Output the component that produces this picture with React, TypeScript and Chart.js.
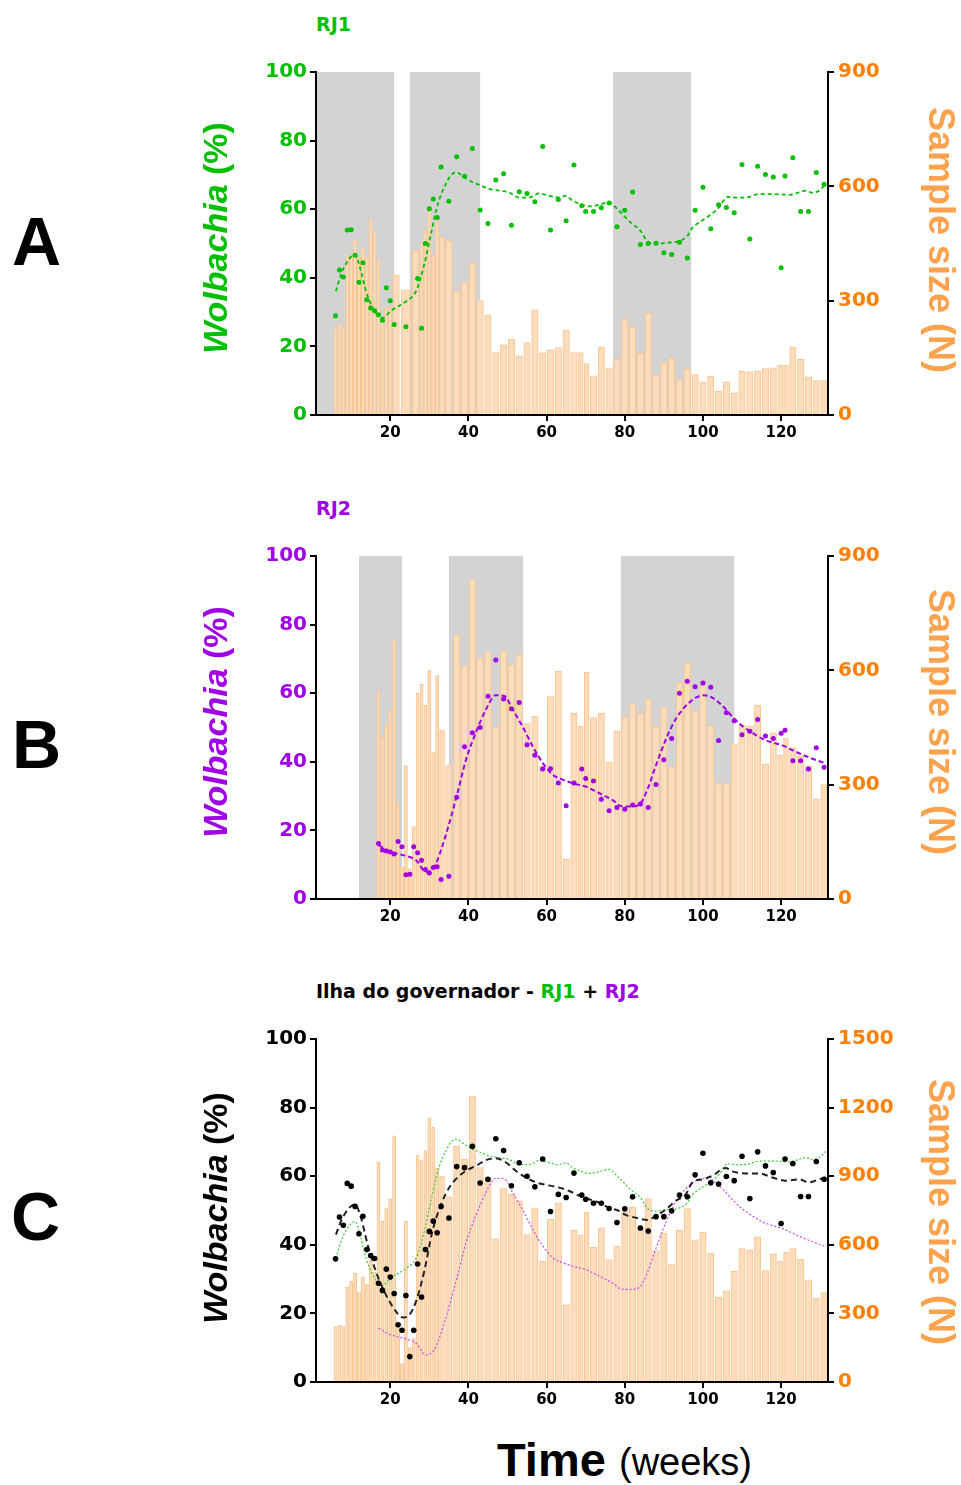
import React, { useEffect, useRef } from 'react';
import { Chart, registerables } from 'chart.js';

Chart.register(...registerables);

// ---------- axis ticks ----------
const X_TICKS = [20, 40, 60, 80, 100, 120];
const PCT_TICKS = [0, 20, 40, 60, 80, 100];
const N_TICKS_AB = [0, 300, 600, 900];
const N_TICKS_C = [0, 300, 600, 900, 1200, 1500];

// ---------- Panel A : RJ1 ----------
const A_WEEKS = [6, 7, 8, 9, 10, 11, 12, 13, 14, 15, 16, 17, 18, 19, 20, 21, 24, 27, 28, 29, 30, 31, 32, 33, 35, 37, 39, 41, 43, 45, 47, 49, 51, 53, 55, 57, 59, 61, 63, 65, 67, 69, 70, 72, 74, 76, 78, 80, 82, 84, 86, 88, 90, 92, 94, 96, 98, 100, 102, 104, 106, 108, 110, 112, 114, 116, 118, 120, 121, 123, 125, 127, 129, 131];
const A_N = [226, 240, 232, 416, 421, 457, 414, 436, 413, 515, 479, 407, 254, 284, 284, 368, 328, 432, 450, 486, 534, 419, 508, 467, 457, 325, 349, 400, 300, 263, 164, 184, 199, 155, 190, 276, 163, 171, 177, 223, 164, 164, 135, 103, 179, 124, 146, 252, 230, 162, 267, 105, 138, 150, 93, 121, 106, 87, 102, 63, 87, 58, 115, 113, 115, 122, 124, 131, 131, 179, 146, 100, 90, 90];
const A_PCT = [28.9, 42.3, 40.2, 53.9, 54, 46.6, 38.7, 44.4, 33.6, 31.2, 30.4, 29.2, 27.6, 37.1, 33.3, 26.4, 25.7, 39.8, 25.3, 50, 60.1, 63, 57.6, 72.3, 62.3, 75.3, 69.6, 77.7, 59.8, 55.8, 68.5, 70.3, 55.3, 65.1, 64.6, 62.2, 78.3, 53.9, 62.8, 56.6, 72.9, 61, 59.3, 59.3, 60.4, 61.8, 54.9, 59.7, 65, 49.7, 50, 50.1, 47.3, 46.8, 50.4, 45.8, 59.7, 66.4, 54.3, 61.3, 60.5, 59, 73, 51.3, 72.5, 70.1, 69.4, 42.9, 69.7, 75, 59.3, 59.3, 70.7, 67.3];
const A_FIT_WEEKS = [6.1, 7.4, 9.1, 11, 12.5, 13.8, 15.1, 16.3, 18, 20.2, 24, 26.6, 28.7, 30.4, 31.7, 33.4, 36.8, 39, 41.1, 43.2, 45.3, 47.9, 50.4, 53, 55.5, 58.1, 60.7, 63.2, 64.9, 66.6, 68.7, 70.9, 73.4, 76, 78.1, 80.2, 82, 83.7, 85.8, 87.9, 90.5, 93.9, 96, 97.3, 99, 101.6, 104.1, 106.3, 108.4, 110.9, 114.4, 117.8, 122, 124.6, 126.3, 128, 129.7, 131.4];
const A_FIT_PCT = [36.1, 41, 44.9, 46.8, 41.9, 36.1, 32.2, 29.7, 28.3, 30.4, 33.1, 36.1, 43.9, 52.7, 59.5, 65.4, 70.8, 69.3, 67.8, 66.9, 65.9, 65.4, 64.9, 63.4, 63.4, 64.6, 63.9, 63.4, 63.9, 62.5, 61.5, 60.8, 61.3, 62, 60, 57.6, 55.6, 54.2, 50.7, 49.8, 50.2, 50.7, 52.2, 54.6, 56.1, 58.1, 60.5, 63.6, 63.4, 63.4, 64.4, 64.4, 64.2, 64.9, 65.4, 64.8, 65.4, 67.2];
const A_SHADE_FROM = [1, 25, 77];
const A_SHADE_TO = [21, 43, 97];

// ---------- Panel B : RJ2 ----------
const B_WEEKS = [17, 18, 19, 20, 21, 22, 23, 24, 25, 26, 27, 28, 29, 30, 31, 32, 33, 35, 37, 39, 41, 43, 45, 47, 49, 51, 53, 55, 57, 59, 61, 63, 65, 67, 69, 70, 72, 74, 76, 78, 80, 82, 84, 86, 88, 90, 92, 94, 96, 98, 100, 102, 104, 106, 108, 110, 112, 114, 116, 118, 120, 121, 123, 125, 127, 129, 131];
const B_N = [545, 425, 456, 495, 681, 250, 84, 350, 80, 190, 540, 563, 508, 600, 384, 586, 444, 350, 693, 612, 838, 633, 649, 451, 651, 615, 642, 460, 479, 348, 531, 598, 104, 487, 454, 595, 476, 487, 359, 441, 476, 513, 487, 524, 454, 504, 347, 568, 619, 496, 561, 456, 303, 303, 407, 457, 454, 508, 355, 436, 377, 423, 397, 375, 348, 263, 300];
const B_PCT = [16.2, 14.3, 14, 13.7, 13.1, 16.8, 15.2, 7.1, 7.2, 15.2, 13.5, 11.3, 8.6, 7.6, 9.2, 9.4, 5.7, 6.6, 29.7, 44.4, 48.5, 50, 59.1, 69.7, 58.3, 55.5, 57.3, 45, 41.9, 37.9, 38, 33.8, 27.2, 33.8, 37.9, 35.1, 34.4, 29.1, 25.7, 26.7, 26.2, 27.4, 27.7, 26.7, 33.4, 40.6, 46.8, 60, 63.5, 61.9, 63, 61.7, 46.2, 54.3, 52, 47.9, 48.9, 52.3, 47.5, 46.8, 48.3, 49.2, 40.3, 40.3, 37.9, 44.1, 38.4];
const B_FIT_WEEKS = [17, 20, 23.2, 26.6, 29.1, 31.3, 33, 35.1, 37.2, 39.4, 41.9, 44.5, 47, 49.2, 51.3, 53.8, 56.4, 59, 61.5, 64.1, 67.1, 70, 73.4, 76.8, 79.4, 82, 84.1, 85.8, 87.9, 90.5, 93, 95.6, 98.2, 100.3, 102.4, 105, 107.5, 110.1, 112.6, 115.2, 117.8, 120.3, 122.9, 125.4, 128, 131];
const B_FIT_PCT = [15.7, 13.8, 12.8, 11.3, 7.9, 9.4, 14.3, 22.1, 30.9, 40.7, 48.5, 55.3, 59.4, 59.2, 55.3, 50.4, 44.6, 39.7, 36.3, 34.8, 33.6, 32.8, 30.9, 28.9, 27, 27, 28, 31.9, 38.7, 46.5, 52.4, 56.3, 58.7, 59.4, 58.7, 56.3, 53.2, 50.4, 48.5, 46.7, 45.6, 44.8, 43.4, 42.1, 40.9, 39.7];
const B_SHADE_FROM = [12, 35, 79];
const B_SHADE_TO = [23, 54, 108];

// ---------- Panel C : Ilha do governador ----------
const C_WEEKS = [6, 7, 8, 9, 10, 11, 12, 13, 14, 15, 16, 17, 18, 19, 20, 21, 22, 23, 24, 25, 26, 27, 28, 29, 30, 31, 32, 33, 35, 37, 39, 41, 43, 45, 47, 49, 51, 53, 55, 57, 59, 61, 63, 65, 67, 69, 70, 72, 74, 76, 78, 80, 82, 84, 86, 88, 90, 92, 94, 96, 98, 100, 102, 104, 106, 108, 110, 112, 114, 116, 118, 120, 121, 123, 125, 127, 129, 131];
const C_N = [242, 249, 242, 415, 440, 475, 391, 459, 428, 531, 480, 963, 704, 762, 802, 1076, 250, 81, 704, 150, 190, 992, 968, 1012, 1155, 1114, 935, 900, 810, 1033, 975, 1250, 938, 894, 627, 846, 821, 792, 645, 762, 528, 711, 784, 337, 663, 641, 743, 589, 674, 535, 594, 748, 765, 674, 802, 575, 651, 516, 664, 758, 622, 655, 564, 371, 399, 484, 583, 576, 635, 487, 561, 528, 567, 583, 538, 447, 366, 391];
const C_PCT = [35.9, 48.1, 45.7, 57.9, 57.1, 51.2, 43.2, 48.3, 38.6, 36.9, 36, 28.8, 26.7, 32.9, 30.6, 25.8, 16.7, 15.1, 25.2, 7.4, 15.1, 34.4, 24.8, 38.6, 43.9, 46.9, 43.5, 51.2, 47.8, 62.8, 62.5, 68.7, 58, 59.1, 70.9, 67.5, 57.2, 63.9, 60, 56.9, 65, 49.7, 54.7, 53.8, 60.9, 54.5, 53.3, 52.1, 52.1, 50.6, 46.5, 50.5, 54, 44.9, 44, 48.2, 48.2, 49.9, 54.5, 54, 60.4, 66.7, 58.1, 57.7, 59.9, 58.7, 65.8, 53.5, 67.1, 63, 61.1, 46.2, 65, 63.7, 54.1, 54.1, 64.3, 59.1];
const C_FIT_WEEKS = [6.1, 7.8, 11, 12.5, 14.2, 16.3, 18.9, 21.5, 23.2, 24.9, 26.6, 28.7, 30.8, 33, 35.1, 37.2, 39.4, 41.9, 44.5, 47, 49.6, 52.1, 54.7, 57.3, 59.8, 62.4, 65.8, 68.3, 70.9, 73.4, 76, 78.5, 80.2, 82.8, 85.8, 87.9, 90.5, 93, 95.6, 97.3, 99.9, 102.4, 105.8, 107.5, 110.9, 114.4, 117.8, 121.2, 124.6, 127.1, 129.7, 131.4];
const C_FIT_PCT = [43, 47.9, 51.8, 47.9, 40.1, 32.3, 25.4, 20.5, 18.8, 19.6, 23.5, 32.3, 44, 51.8, 56.7, 59.6, 61.6, 63, 64.7, 65.2, 64, 61.6, 59.6, 58.2, 57.5, 56.9, 55.7, 54.3, 53.3, 52.3, 50.8, 49.9, 48.7, 47.9, 47.2, 48.4, 50.3, 52.8, 54.7, 58.2, 59.1, 60.1, 62.4, 61.4, 60.8, 60.8, 59.6, 58.7, 59.1, 58.2, 59.1, 59.6];

// ---------- styles ----------
const GREEN = '#00BE00';
const PURPLE = '#A000E6';
const ORANGE = '#FF8000';
const ORANGE_LIGHT = '#FFA24D';
const BAR_FILL = '#FDDCBC';
const BAR_EDGE = '#F9C590';
const SHADE = '#D3D3D3';
const TICK_FONT = '"DejaVu Sans", Verdana, sans-serif';
const TEXT_FONT = '"Liberation Sans", Arial, Helvetica, sans-serif';

const CANVAS_W = 720;
const CANVAS_H = 405;
const PAD_TOP = 24;

const shadePlugin = {
  id: 'shade',
  beforeDatasetsDraw(chart: any, _args: any, opts: any) {
    const from: number[] = (opts && opts.from) || [];
    const to: number[] = (opts && opts.to) || [];
    if (!from.length) return;
    const { ctx, chartArea, scales } = chart;
    const x = scales.x;
    ctx.save();
    ctx.fillStyle = SHADE;
    for (let i = 0; i < from.length; i++) {
      const x0 = Math.max(x.getPixelForValue(from[i]), chartArea.left + 1);
      const x1 = Math.min(x.getPixelForValue(to[i]), chartArea.right);
      ctx.fillRect(x0, chartArea.top, x1 - x0, chartArea.bottom - chartArea.top);
    }
    ctx.restore();
  },
};

const pts = (xs: number[], ys: number[]) => xs.map((x, i) => ({ x, y: ys[i] }));

type LineSpec = { xs: number[]; ys: number[]; color: string; width: number; dash: number[] };
type PanelSpec = {
  weeks: number[];
  n: number[];
  pct: number[];
  pointColor: string;
  pointRadius: number;
  lines: LineSpec[];
  nTicks: number[];
  leftColor: string;
  shadeFrom: number[];
  shadeTo: number[];
};

function buildChart(canvas: HTMLCanvasElement, p: PanelSpec) {
  const datasets: any[] = [
    {
      type: 'line',
      data: pts(p.weeks, p.pct),
      showLine: false,
      pointRadius: p.pointRadius,
      pointBackgroundColor: p.pointColor,
      pointBorderWidth: 0,
      xAxisID: 'x',
      yAxisID: 'y',
      order: 1,
    },
    ...p.lines.map((l) => ({
      type: 'line',
      data: pts(l.xs, l.ys),
      borderColor: l.color,
      borderWidth: l.width,
      borderDash: l.dash,
      pointRadius: 0,
      fill: false,
      tension: 0.4,
      cubicInterpolationMode: 'monotone',
      xAxisID: 'x',
      yAxisID: 'y',
      order: 2,
    })),
    {
      type: 'bar',
      data: pts(p.weeks, p.n),
      backgroundColor: BAR_FILL,
      borderColor: BAR_EDGE,
      borderWidth: 1,
      barThickness: 'flex',
      barPercentage: 0.82,
      categoryPercentage: 1,
      xAxisID: 'x',
      yAxisID: 'yN',
      order: 3,
    },
  ];
  const tickGrid = { drawOnChartArea: false, drawTicks: true, tickLength: 6, tickWidth: 2, tickColor: '#000', color: '#000', lineWidth: 2, offset: false };
  const border = { display: true, color: '#000', width: 2, z: 1 };
  const nMax = p.nTicks[p.nTicks.length - 1];
  return new Chart(canvas, {
    type: 'bar',
    data: { datasets },
    plugins: [shadePlugin],
    options: {
      responsive: false,
      animation: false,
      events: [],
      layout: { padding: { left: 0, right: 42, top: PAD_TOP, bottom: 8 } },
      plugins: {
        legend: { display: false },
        tooltip: { enabled: false },
        shade: { from: p.shadeFrom, to: p.shadeTo },
      } as any,
      scales: {
        x: {
          type: 'linear',
          min: 1,
          max: 132,
          offset: false,
          afterBuildTicks: (s: any) => { s.ticks = X_TICKS.map((v) => ({ value: v })); },
          afterFit: (s: any) => { s.height = 30; },
          grid: tickGrid,
          border,
          ticks: { autoSkip: false, maxRotation: 0, color: '#000', padding: 3, font: { family: TICK_FONT, weight: 'bold', size: 15 } },
        },
        y: {
          type: 'linear',
          position: 'left',
          min: 0,
          max: 100,
          afterBuildTicks: (s: any) => { s.ticks = PCT_TICKS.map((v) => ({ value: v })); },
          afterFit: (s: any) => { s.width = 86; },
          grid: tickGrid,
          border,
          ticks: { color: p.leftColor, padding: 3, callback: (v: any) => String(v), font: { family: TICK_FONT, weight: 'bold', size: 20 } },
        },
        yN: {
          type: 'linear',
          position: 'right',
          min: 0,
          max: nMax,
          afterBuildTicks: (s: any) => { s.ticks = p.nTicks.map((v) => ({ value: v })); },
          afterFit: (s: any) => { s.width = 80; },
          grid: tickGrid,
          border,
          ticks: { color: ORANGE, padding: 4, callback: (v: any) => String(v), font: { family: TICK_FONT, weight: 'bold', size: 20 } },
        },
      } as any,
    },
  } as any);
}

const abs = (extra: React.CSSProperties): React.CSSProperties => ({ position: 'absolute', lineHeight: 1, whiteSpace: 'nowrap', ...extra });

function WolbTitle({ cx, cy, color }: { cx: number; cy: number; color: string }) {
  return (
    <div style={abs({ left: cx, top: cy, transform: 'translate(-50%,-50%) rotate(-90deg)', fontFamily: TEXT_FONT, fontWeight: 'bold', fontSize: 34, color })}>
      <span style={{ fontStyle: 'italic' }}>Wolbachia</span> (%)
    </div>
  );
}

function SampleTitle({ cx, cy }: { cx: number; cy: number }) {
  return (
    <div style={abs({ left: cx, top: cy, transform: 'translate(-50%,-50%) rotate(90deg)', fontFamily: TEXT_FONT, fontWeight: 'bold', fontSize: 36, color: ORANGE_LIGHT })}>
      Sample size (N)
    </div>
  );
}

export default function App() {
  const refA = useRef<HTMLCanvasElement>(null);
  const refB = useRef<HTMLCanvasElement>(null);
  const refC = useRef<HTMLCanvasElement>(null);

  useEffect(() => {
    const charts: Chart[] = [];
    if (refA.current) {
      charts.push(buildChart(refA.current, {
        weeks: A_WEEKS, n: A_N, pct: A_PCT, pointColor: GREEN, pointRadius: 2.5,
        lines: [{ xs: A_FIT_WEEKS, ys: A_FIT_PCT, color: GREEN, width: 1.8, dash: [4, 3] }],
        nTicks: N_TICKS_AB, leftColor: GREEN, shadeFrom: A_SHADE_FROM, shadeTo: A_SHADE_TO,
      }));
    }
    if (refB.current) {
      charts.push(buildChart(refB.current, {
        weeks: B_WEEKS, n: B_N, pct: B_PCT, pointColor: PURPLE, pointRadius: 2.5,
        lines: [{ xs: B_FIT_WEEKS, ys: B_FIT_PCT, color: PURPLE, width: 2, dash: [5, 3] }],
        nTicks: N_TICKS_AB, leftColor: PURPLE, shadeFrom: B_SHADE_FROM, shadeTo: B_SHADE_TO,
      }));
    }
    if (refC.current) {
      charts.push(buildChart(refC.current, {
        weeks: C_WEEKS, n: C_N, pct: C_PCT, pointColor: '#000', pointRadius: 2.8,
        lines: [
          { xs: C_FIT_WEEKS, ys: C_FIT_PCT, color: '#222', width: 2, dash: [6, 4] },
          { xs: A_FIT_WEEKS, ys: A_FIT_PCT, color: '#39C939', width: 1.2, dash: [2, 2] },
          { xs: B_FIT_WEEKS, ys: B_FIT_PCT, color: '#C84BEA', width: 1.2, dash: [2, 2] },
        ],
        nTicks: N_TICKS_C, leftColor: '#000', shadeFrom: [], shadeTo: [],
      }));
    }
    return () => charts.forEach((c) => c.destroy());
  }, []);

  const canvasStyle = (chartTop: number): React.CSSProperties => ({ position: 'absolute', left: 230, top: chartTop - PAD_TOP, width: CANVAS_W, height: CANVAS_H });
  const smallTitle: React.CSSProperties = { fontFamily: TICK_FONT, fontWeight: 'bold', fontSize: 19 };
  const letter: React.CSSProperties = { fontFamily: TEXT_FONT, fontWeight: 'bold', fontSize: 68, color: '#000' };

  return (
    <div style={{ position: 'absolute', left: 0, top: 0, width: 961, height: 1485, background: '#fff', overflow: 'hidden' }}>
      <canvas ref={refA} width={CANVAS_W} height={CANVAS_H} style={canvasStyle(72)} />
      <canvas ref={refB} width={CANVAS_W} height={CANVAS_H} style={canvasStyle(556)} />
      <canvas ref={refC} width={CANVAS_W} height={CANVAS_H} style={canvasStyle(1039)} />

      <div style={abs({ left: 12, top: 207, ...letter })}>A</div>
      <div style={abs({ left: 12, top: 710, ...letter })}>B</div>
      <div style={abs({ left: 11, top: 1182, ...letter })}>C</div>

      <div style={abs({ left: 316, top: 15, color: GREEN, ...smallTitle })}>RJ1</div>
      <div style={abs({ left: 316, top: 499, color: PURPLE, ...smallTitle })}>RJ2</div>
      <div style={abs({ left: 316, top: 982, color: '#000', ...smallTitle })}>
        Ilha do governador - <span style={{ color: GREEN }}>RJ1</span> + <span style={{ color: PURPLE }}>RJ2</span>
      </div>

      <WolbTitle cx={215} cy={238} color={GREEN} />
      <WolbTitle cx={215} cy={722} color={PURPLE} />
      <WolbTitle cx={215} cy={1208} color="#000" />

      <SampleTitle cx={941} cy={240} />
      <SampleTitle cx={941} cy={722} />
      <SampleTitle cx={941} cy={1212} />

      <div style={abs({ left: 497, top: 1436, fontFamily: TEXT_FONT, fontWeight: 'bold', fontSize: 47, color: '#000' })}>Time</div>
      <div style={abs({ left: 619, top: 1443, fontFamily: TEXT_FONT, fontSize: 38, color: '#000' })}>(weeks)</div>
    </div>
  );
}
